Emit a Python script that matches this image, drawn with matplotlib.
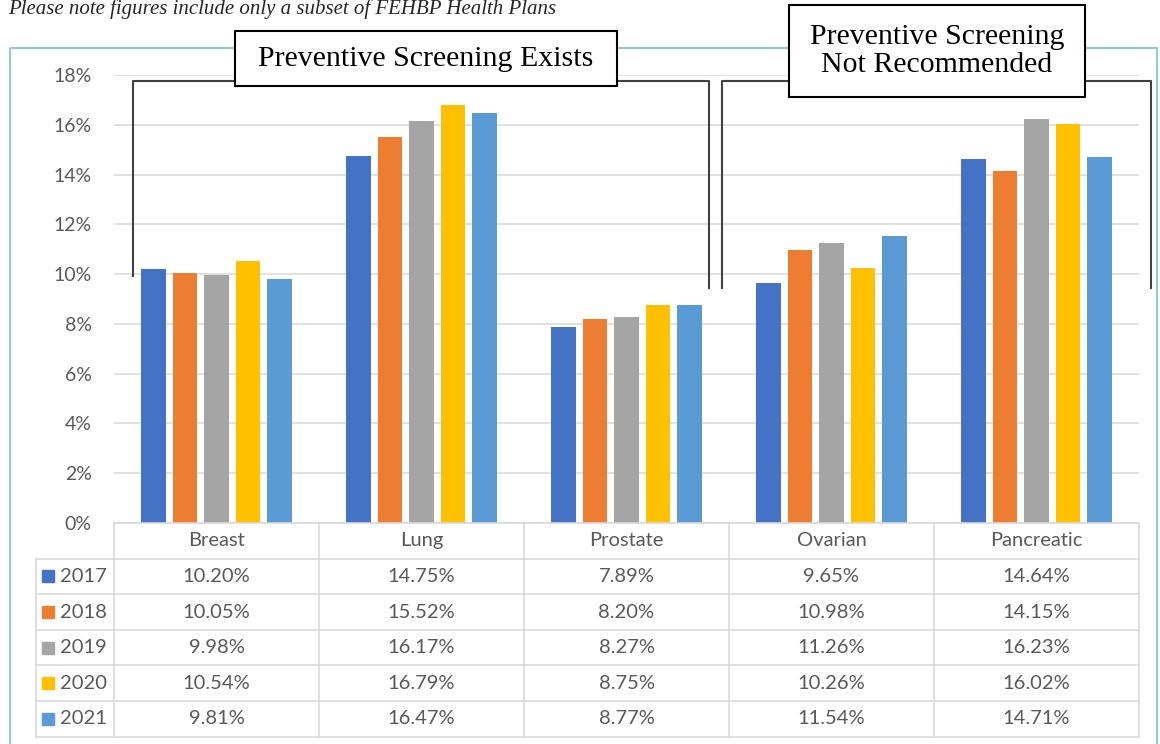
import matplotlib
matplotlib.use("Agg")
import matplotlib.pyplot as plt
from matplotlib.patches import Rectangle

# cancer screening rates by type and year
cancers = ["Breast", "Lung", "Prostate", "Ovarian", "Pancreatic"]
years = ["2017", "2018", "2019", "2020", "2021"]
rate_2017 = [10.20, 14.75, 7.89, 9.65, 14.64]
rate_2018 = [10.05, 15.52, 8.20, 10.98, 14.15]
rate_2019 = [9.98, 16.17, 8.27, 11.26, 16.23]
rate_2020 = [10.54, 16.79, 8.75, 10.26, 16.02]
rate_2021 = [9.81, 16.47, 8.77, 11.54, 14.71]
rates = [rate_2017, rate_2018, rate_2019, rate_2020, rate_2021]
colors = ["#4472C4", "#ED7D31", "#A5A5A5", "#FFC000", "#5B9BD5"]
yticks = [0, 2, 4, 6, 8, 10, 12, 14, 16, 18]

W, H = 1160, 744
txt_gray = "#595959"
line_gray = "#D9D9D9"
sans = "Lato"
serif = "Liberation Serif"

fig = plt.figure(figsize=(W / 100, H / 100), dpi=100)
fig.patch.set_facecolor("white")

# plot area in pixels
left, right, top, bottom = 114, 1139, 75, 523
ax = fig.add_axes([left / W, 1 - bottom / H, (right - left) / W, (bottom - top) / H])
ax.set_xlim(-0.5, len(cancers) - 0.5)
ax.set_ylim(0, 18)
ax.set_yticks(yticks)
ax.set_yticklabels([f"{t}%" for t in yticks], color=txt_gray, fontsize=14, family=sans)
ax.tick_params(axis="y", length=0, pad=16)
ax.set_xticks([])
ax.grid(axis="y", color=line_gray, lw=1.1)
ax.set_axisbelow(True)
for s in ax.spines.values():
    s.set_visible(False)

pitch, bw = 0.153, 0.12
for i, (vals, c) in enumerate(zip(rates, colors)):
    xs = [k + (i - 2) * pitch for k in range(len(cancers))]
    ax.bar(xs, vals, width=bw, color=c, zorder=2)

# overlay in pixel coordinates for the table and annotations
ov = fig.add_axes([0, 0, 1, 1])
ov.set_xlim(0, W)
ov.set_ylim(H, 0)
ov.axis("off")
ov.patch.set_visible(False)

# chart frame
ov.add_patch(Rectangle((10, 48), 1147, 760, fill=False, ec="#8CC9DA", lw=1.4))

# data table
col_w = (right - left) / len(cancers)
row_h = 35.6
col_x = [left + k * col_w for k in range(len(cancers) + 1)]
row_y = [bottom + k * row_h for k in range(len(years) + 2)]
leg_x = 36
ov.plot([left, right], [row_y[0], row_y[0]], color=line_gray, lw=1.2)
for y in row_y[1:]:
    ov.plot([leg_x, right], [y, y], color=line_gray, lw=1.2)
ov.plot([leg_x, leg_x], [row_y[1], row_y[-1]], color=line_gray, lw=1.2)
for x in col_x:
    ov.plot([x, x], [row_y[0], row_y[-1]], color=line_gray, lw=1.2)

fs = 14.5
for k, name in enumerate(cancers):
    ov.text((col_x[k] + col_x[k + 1]) / 2, (row_y[0] + row_y[1]) / 2, name,
            ha="center", va="center", fontsize=fs, color=txt_gray, family=sans)
for r, (yr, vals, c) in enumerate(zip(years, rates, colors)):
    yc = (row_y[r + 1] + row_y[r + 2]) / 2
    ov.add_patch(Rectangle((42, yc - 6), 12, 12, color=c))
    ov.text(60, yc, yr, ha="left", va="center", fontsize=fs, color=txt_gray, family=sans)
    for k, v in enumerate(vals):
        ov.text((col_x[k] + col_x[k + 1]) / 2, yc, f"{v:.2f}%",
                ha="center", va="center", fontsize=fs, color=txt_gray, family=sans)

# group brackets
bk = "#404040"
ov.plot([133, 133, 709, 709], [276, 81, 81, 288], color=bk, lw=1.5)
ov.plot([722, 722, 1151, 1151], [288, 81, 81, 288], color=bk, lw=1.5)

# group labels
ov.add_patch(Rectangle((235, 31), 382, 55, fc="white", ec="black", lw=1.5, zorder=5))
ov.text(426, 58.5, "Preventive Screening Exists", ha="center", va="center",
        fontsize=21.5, family=serif, color="black", zorder=6)
ov.add_patch(Rectangle((789, 5), 296, 92, fc="white", ec="black", lw=1.5, zorder=5))
ov.text(937, 51, "Preventive Screening\nNot Recommended", ha="center", va="center",
        fontsize=21.5, family=serif, color="black", linespacing=1.15, zorder=6)

# note at the top
ov.text(8, 14, "Please note figures include only a subset of FEHBP Health Plans",
        ha="left", va="baseline", fontsize=15, family=serif, style="italic", color="#262626")

fig.savefig("out.png", dpi=100)
